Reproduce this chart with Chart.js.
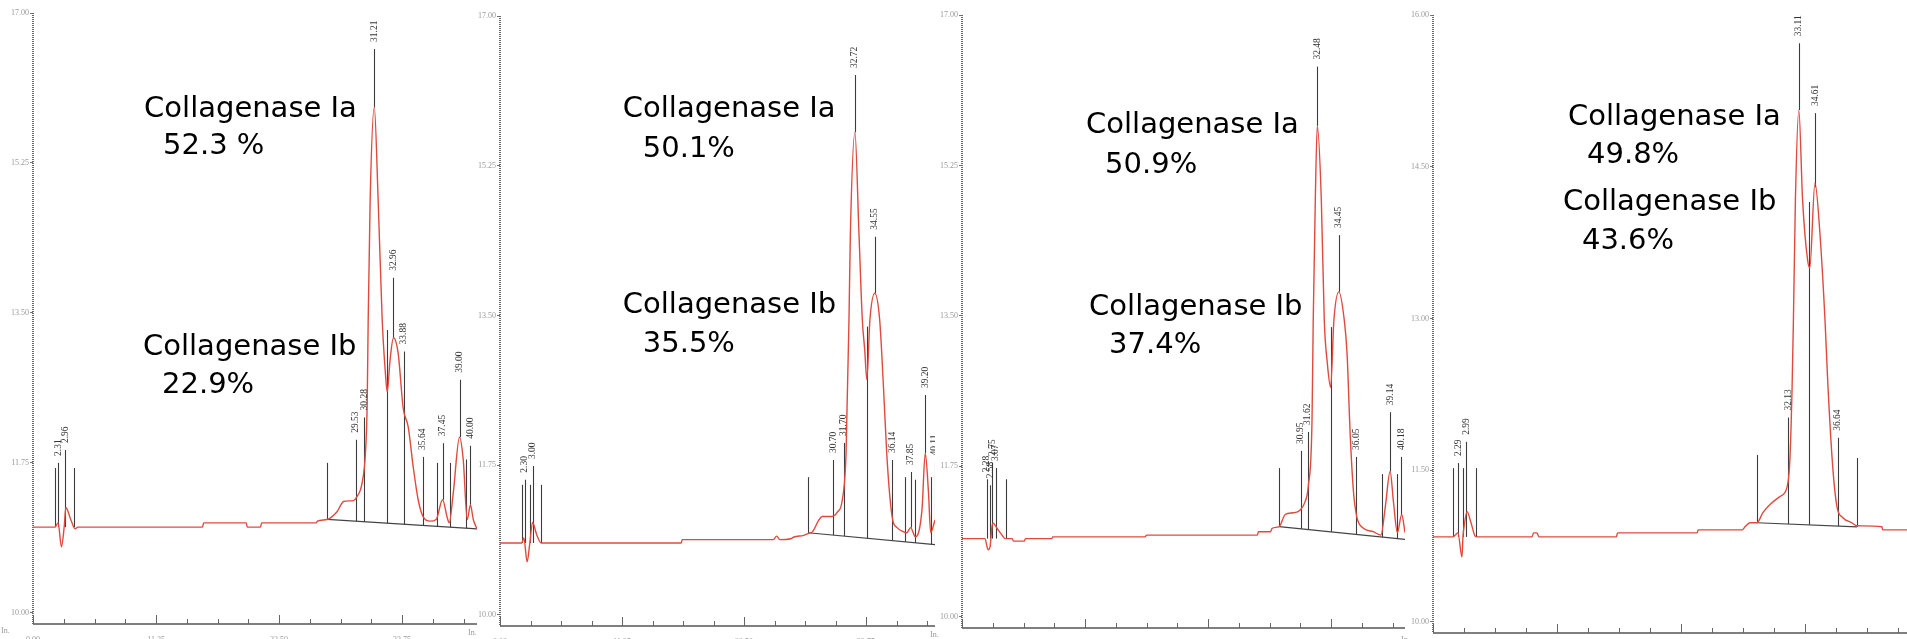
<!DOCTYPE html>
<html>
<head>
<meta charset="utf-8">
<script src="https://cdn.jsdelivr.net/npm/chart.js@4.4.1/dist/chart.umd.min.js"></script>
<style>
  html, body { margin: 0; padding: 0; background: #fff; }
  body { width: 1907px; height: 639px; position: relative; overflow: hidden; }
  canvas { position: absolute; top: 0; }
</style>
</head>
<body>
<canvas id="c1"></canvas>
<canvas id="c2"></canvas>
<canvas id="c3"></canvas>
<canvas id="c4"></canvas>
<script>
// tick labels
const xTicksA = [0, 11.25, 22.50, 33.75];
const xTicksB = [0, 11.23, 22.45, 33.68];
const yTicksA = [10.00, 11.75, 13.50, 15.25, 17.00];
const yTicksB = [10.00, 11.50, 13.00, 14.50, 16.00];

// panel 1 : [time, signal]
const p1Trace = [[0,11.00],[2.0,11.00],[2.3,11.05],[2.6,10.77],[2.85,11.00],[3.0,11.23],[3.45,11.09],[3.85,10.98],[4.1,11.00],
  [15.5,11.00],[15.6,11.05],[19.5,11.05],[19.6,11.00],[20.8,11.00],[20.9,11.05],[25.9,11.05],[26.0,11.07],[26.9,11.09],
  [27.8,11.18],[28.4,11.30],[29.3,11.31],[29.6,11.35],[30.1,11.52],[30.4,11.87],[30.56,12.45],[30.65,13.42],[30.83,14.82],
  [31.21,15.90],[31.56,14.82],[31.93,13.42],[32.02,13.19],[32.2,12.84],[32.39,12.58],[32.65,12.95],[32.96,13.21],[33.39,13.03],
  [33.85,12.39],[34.31,12.17],[34.77,11.70],[35.22,11.32],[35.68,11.12],[36.32,11.07],[36.87,11.09],[37.45,11.32],[37.88,11.11],
  [38.06,11.05],[38.43,11.40],[39.0,12.05],[39.34,11.79],[39.71,11.09],[40.0,11.26],[40.26,11.09],[40.6,10.98]];
const p1PeakTimes = [2.0, 2.31, 2.96, 3.75, 26.9, 29.53, 30.28, 31.21, 32.4, 32.96, 33.88, 35.64, 36.9, 37.45, 38.1, 39.0, 39.6, 40.0];
const p1PeakTops = [11.69, 11.75, 11.90, 11.69, 11.75, 12.02, 12.28, 16.58, 13.30, 13.91, 13.05, 11.82, 11.75, 11.98, 11.75, 12.72, 11.79, 11.95];
const p1PeakLabels = ['', '2.31', '2.96', '', '', '29.53', '30.28', '31.21', '', '32.96', '33.88', '35.64', '', '37.45', '', '39.00', '', '40.00'];
const p1Apex = [31.21, 32.96, 37.45, 39.0, 40.0];
const p1Base = [[26.9, 11.09], [40.62, 10.98]];
const p1Notes = ['Collagenase Ia', '52.3 %', 'Collagenase Ib', '22.9%'];

// panel 2
const p2Trace = [[0,10.84],[2.0,10.84],[2.2,10.90],[2.5,10.62],[2.75,10.84],[3.0,11.08],[3.4,10.93],[3.8,10.84],
  [16.7,10.84],[16.8,10.88],[25.2,10.88],[25.5,10.92],[25.8,10.88],[26.8,10.89],[27.1,10.91],[28.0,10.93],[28.4,10.95],
  [28.8,10.97],[29.4,11.11],[29.7,11.15],[30.6,11.15],[31.1,11.20],[31.55,11.34],[31.9,11.89],[32.17,13.45],[32.3,14.46],
  [32.72,15.64],[33.09,14.46],[33.4,13.45],[33.62,13.10],[33.82,12.75],[34.1,13.45],[34.55,13.76],[35.0,13.45],[35.35,12.66],
  [35.65,11.89],[35.94,11.38],[36.2,11.11],[36.6,11.02],[37.2,10.97],[37.5,10.96],[37.85,11.02],[38.3,10.91],[38.9,11.23],
  [39.2,11.89],[39.5,11.43],[39.7,10.96],[40.1,11.11]];
const p2PeakTimes = [2.0, 2.30, 2.76, 3.00, 3.77, 28.4, 30.70, 31.70, 32.72, 33.8, 34.55, 36.14, 37.3, 37.85, 38.3, 39.20, 39.7, 40.06];
const p2PeakTops = [11.52, 11.58, 11.52, 11.74, 11.52, 11.61, 11.81, 12.01, 16.31, 13.37, 14.42, 11.81, 11.61, 11.67, 11.58, 12.57, 11.61, 11.78];
const p2PeakLabels = ['', '2.30', '', '3.00', '', '', '30.70', '31.70', '32.72', '', '34.55', '36.14', '', '37.85', '', '39.20', '', '40.11'];
const p2Apex = [32.72, 34.55, 37.85, 39.20];
const p2Base = [[28.4, 10.96], [40.1, 10.82]];
const p2Notes = ['Collagenase Ia', '50.1%', 'Collagenase Ib', '35.5%'];

// panel 3
const p3Trace = [[0,10.91],[2.1,10.91],[2.38,10.78],[2.56,10.81],[2.74,11.05],[2.84,11.09],[3.2,11.03],[3.66,10.95],[3.93,10.91],
  [4.6,10.91],[4.7,10.88],[5.7,10.88],[5.8,10.91],[8.2,10.91],[8.3,10.93],[16.7,10.93],[16.9,10.95],[27.0,10.95],[27.1,10.99],
  [28.2,10.99],[28.35,11.03],[29.0,11.05],[29.55,11.19],[30.28,11.21],[30.9,11.24],[31.37,11.34],[31.65,11.51],[32.0,12.29],
  [32.11,13.45],[32.3,14.85],[32.48,15.71],[32.85,14.85],[33.12,13.45],[33.4,12.95],[33.7,12.67],[34.0,13.45],[34.45,13.78],
  [34.95,13.45],[35.2,13.07],[35.5,12.09],[35.8,11.44],[36.1,11.16],[36.7,11.03],[37.6,10.99],[38.3,10.95],[38.7,11.28],
  [39.14,11.69],[39.45,11.33],[39.8,10.98],[40.2,11.19],[40.5,10.98]];
const p3PeakTimes = [2.28, 2.58, 2.75, 3.07, 4.0, 29.0, 30.95, 31.62, 32.48, 33.76, 34.45, 36.05, 38.4, 39.14, 39.8, 40.18];
const p3PeakTops = [11.60, 11.53, 11.79, 11.73, 11.60, 11.73, 11.93, 12.15, 16.40, 13.37, 14.44, 11.86, 11.66, 12.38, 11.66, 11.86];
const p3PeakLabels = ['2.28', '2.58', '2.75', '3.07', '', '', '30.95', '31.62', '32.48', '', '34.45', '36.05', '', '39.14', '', '40.18'];
const p3Apex = [32.48, 34.45, 39.14, 40.18];
const p3Base = [[29.0, 11.05], [40.5, 10.90]];
const p3Notes = ['Collagenase Ia', '50.9%', 'Collagenase Ib', '37.4%'];

// panel 4
const p4Trace = [[0,10.84],[1.81,10.84],[2.26,10.88],[2.62,10.64],[2.71,10.84],[2.81,10.94],[3.08,11.09],[3.44,10.98],[3.8,10.85],
  [3.98,10.84],[8.96,10.84],[9.1,10.88],[9.4,10.88],[9.6,10.84],[16.6,10.84],[16.7,10.88],[23.9,10.88],[24.0,10.91],[28.0,10.91],
  [28.24,10.94],[28.69,10.98],[29.32,10.98],[29.86,11.08],[30.5,11.16],[31.4,11.24],[32.04,11.33],[32.3,11.60],[32.5,12.32],
  [32.62,12.98],[32.8,14.17],[33.11,15.06],[33.45,14.17],[33.9,13.58],[34.1,13.50],[34.57,14.34],[35.02,13.84],[35.48,12.98],
  [35.75,12.32],[36.2,11.50],[36.56,11.14],[37.1,11.03],[37.9,10.98],[38.37,10.95],[40.63,10.94],[40.7,10.91],[42.9,10.91]];
const p4PeakTimes = [1.81, 2.29, 2.71, 2.99, 3.89, 29.32, 32.13, 33.11, 34.03, 34.61, 36.64, 38.37];
const p4PeakTops = [11.52, 11.57, 11.52, 11.78, 11.52, 11.65, 12.02, 15.72, 14.15, 15.03, 11.82, 11.62];
const p4PeakLabels = ['', '2.29', '', '2.99', '', '', '32.13', '33.11', '', '34.61', '36.64', ''];
const p4Apex = [33.11, 34.61];
const p4Base = [[29.32, 10.98], [38.37, 10.94]];
const p4Notes = ['Collagenase Ia', '49.8%', 'Collagenase Ib', '43.6%'];

const RED = '#e04a3e';

const panels = [
  { id: 'c1', trace: p1Trace, times: p1PeakTimes, tops: p1PeakTops, labels: p1PeakLabels, apex: p1Apex, base: p1Base,
    notes: p1Notes, noteAt: [[10.16, 15.79], [11.89, 15.36], [10.06, 13.01], [11.80, 12.56]],
    axisLeft: 33, right: 477, top: 13, bottom: 624, xMax: 40.6, yMin: 9.87, yMax: 17, xTicks: xTicksA, yTicks: yTicksA },
  { id: 'c2', trace: p2Trace, times: p2PeakTimes, tops: p2PeakTops, labels: p2PeakLabels, apex: p2Apex, base: p2Base,
    notes: p2Notes, noteAt: [[11.32, 15.82], [13.16, 15.35], [11.32, 13.53], [13.16, 13.07]],
    axisLeft: 500, right: 935, top: 16, bottom: 626, xMax: 40.1, yMin: 9.87, yMax: 17, xTicks: xTicksA, yTicks: yTicksA },
  { id: 'c3', trace: p3Trace, times: p3PeakTimes, tops: p3PeakTops, labels: p3PeakLabels, apex: p3Apex, base: p3Base,
    notes: p3Notes, noteAt: [[11.34, 15.63], [13.08, 15.16], [11.62, 13.51], [13.45, 13.07]],
    axisLeft: 962, right: 1405, top: 15, bottom: 628, xMax: 40.5, yMin: 9.87, yMax: 17, xTicks: xTicksA, yTicks: yTicksA },
  { id: 'c4', trace: p4Trace, times: p4PeakTimes, tops: p4PeakTops, labels: p4PeakLabels, apex: p4Apex, base: p4Base,
    notes: p4Notes, noteAt: [[12.22, 14.91], [13.94, 14.54], [11.76, 14.07], [13.48, 13.69]],
    axisLeft: 1433, right: 1907, top: 15, bottom: 633, xMax: 42.9, yMin: 9.89, yMax: 16, xTicks: xTicksB, yTicks: yTicksB }
];

const Y_AXIS_W = 33;

// linear lookup along the recorded trace
function valueAt(trace, t) {
  for (let i = 1; i < trace.length; i++) {
    if (t <= trace[i][0]) {
      const [t0, v0] = trace[i - 1], [t1, v1] = trace[i];
      return v0 + (v1 - v0) * (t - t0) / (t1 - t0);
    }
  }
  return trace[trace.length - 1][1];
}

function footOf(p, t) {
  if (p.apex.some(a => Math.abs(a - t) < 0.005)) return valueAt(p.trace, t);
  const [[b0, v0], [b1, v1]] = p.base;
  if (t >= b0 - 0.05 && t <= b1 + 0.05) return v0 + (v1 - v0) * (t - b0) / (b1 - b0);
  return p.trace[0][1];
}

// major ticks plus 4 subdivisions each, running on to the axis end
function axisMarks(majors, max) {
  const out = [];
  for (let i = 0; i < majors.length; i++) {
    const a = majors[i];
    const last = i === majors.length - 1;
    const step = (last ? a - majors[i - 1] : majors[i + 1] - a) / 4;
    for (let k = 0; ; k++) {
      const v = a + k * step;
      if (v > max + 1e-6 || (!last && k >= 4)) break;
      out.push({ v, major: k === 0 });
    }
  }
  return out;
}

function chromPlugin(p) {
  return {
    id: 'chrom_' + p.id,
    beforeDatasetsDraw(chart) {
      const { ctx, chartArea: a, scales: { x, y } } = chart;
      ctx.save();
      // x axis and tick marks pointing up
      ctx.strokeStyle = '#555';
      ctx.lineWidth = 1.5;
      ctx.beginPath();
      ctx.moveTo(a.left, a.bottom);
      ctx.lineTo(a.right, a.bottom);
      ctx.stroke();
      ctx.lineWidth = 1;
      ctx.strokeStyle = '#666';
      ctx.beginPath();
      axisMarks(p.xTicks, p.xMax).forEach(m => {
        const px = Math.round(x.getPixelForValue(m.v)) + 0.5;
        ctx.moveTo(px, a.bottom);
        ctx.lineTo(px, a.bottom - (m.major ? 9 : 5));
      });
      ctx.stroke();
      // y axis ruler
      ctx.strokeStyle = '#666';
      ctx.lineWidth = 2;
      ctx.setLineDash([1, 1]);
      ctx.beginPath();
      ctx.moveTo(a.left, a.top);
      ctx.lineTo(a.left, a.bottom);
      ctx.stroke();
      ctx.setLineDash([]);
      ctx.fillStyle = '#999';
      ctx.font = '8px "Liberation Serif"';
      ctx.textAlign = 'left';
      ctx.textBaseline = 'top';
      ctx.fillText('In.', a.left - 32, a.bottom + 3);

      // integration baseline
      ctx.strokeStyle = '#444';
      ctx.lineWidth = 1.2;
      ctx.beginPath();
      ctx.moveTo(x.getPixelForValue(p.base[0][0]), y.getPixelForValue(p.base[0][1]));
      ctx.lineTo(x.getPixelForValue(p.base[1][0]), y.getPixelForValue(p.base[1][1]));
      ctx.stroke();

      // peak marker lines
      ctx.strokeStyle = '#3c3c3c';
      ctx.lineWidth = 1.1;
      p.times.forEach((t, i) => {
        const px = Math.round(x.getPixelForValue(t)) + 0.5;
        ctx.beginPath();
        ctx.moveTo(px, y.getPixelForValue(footOf(p, t)));
        ctx.lineTo(px, y.getPixelForValue(p.tops[i]));
        ctx.stroke();
      });
      ctx.restore();
    },
    afterDatasetsDraw(chart) {
      const { ctx, scales: { x, y } } = chart;
      ctx.save();
      // retention time labels, rotated
      ctx.fillStyle = '#333';
      ctx.font = '9.5px "Liberation Serif"';
      ctx.textAlign = 'left';
      ctx.textBaseline = 'middle';
      p.times.forEach((t, i) => {
        if (!p.labels[i]) return;
        ctx.save();
        ctx.translate(x.getPixelForValue(t), y.getPixelForValue(p.tops[i]) - 7);
        ctx.rotate(-Math.PI / 2);
        ctx.fillText(p.labels[i], 0, 0);
        ctx.restore();
      });
      // component notes
      ctx.fillStyle = '#000';
      ctx.font = '29px "DejaVu Sans"';
      ctx.textBaseline = 'alphabetic';
      p.notes.forEach((txt, i) => {
        const [t, v] = p.noteAt[i];
        ctx.fillText(txt, x.getPixelForValue(t), y.getPixelForValue(v));
      });
      ctx.restore();
    }
  };
}

panels.forEach(p => {
  const canvas = document.getElementById(p.id);
  const left = p.axisLeft - Y_AXIS_W;
  canvas.width = p.right - left;
  canvas.height = 639;
  canvas.style.left = left + 'px';

  new Chart(canvas, {
    type: 'line',
    data: {
      datasets: [{
        data: p.trace.map(d => ({ x: d[0], y: d[1] })),
        borderColor: RED,
        borderWidth: 1.4,
        pointRadius: 0,
        fill: false,
        cubicInterpolationMode: 'monotone'
      }]
    },
    options: {
      responsive: false,
      animation: false,
      events: [],
      layout: { padding: { top: p.top, left: 0, right: 0, bottom: 0 } },
      plugins: { legend: { display: false }, tooltip: { enabled: false } },
      scales: {
        x: {
          type: 'linear',
          min: 0,
          max: p.xMax,
          afterBuildTicks: s => { s.ticks = p.xTicks.map(v => ({ value: v })); },
          afterFit: s => { s.height = 639 - p.bottom; },
          ticks: {
            autoSkip: false,
            maxRotation: 0,
            padding: 3,
            color: '#999',
            font: { family: 'Liberation Serif', size: 8 },
            callback: v => v.toFixed(2)
          },
          grid: { display: false },
          border: { display: false }
        },
        y: {
          min: p.yMin,
          max: p.yMax,
          afterBuildTicks: s => { s.ticks = p.yTicks.map(v => ({ value: v })); },
          afterFit: s => { s.width = Y_AXIS_W; },
          ticks: {
            padding: 1,
            color: '#999',
            font: { family: 'Liberation Serif', size: 8 },
            callback: v => v.toFixed(2)
          },
          grid: { drawOnChartArea: false, drawTicks: true, tickLength: 3, color: '#777' },
          border: { display: false }
        }
      }
    },
    plugins: [chromPlugin(p)]
  });
});
</script>
</body>
</html>
